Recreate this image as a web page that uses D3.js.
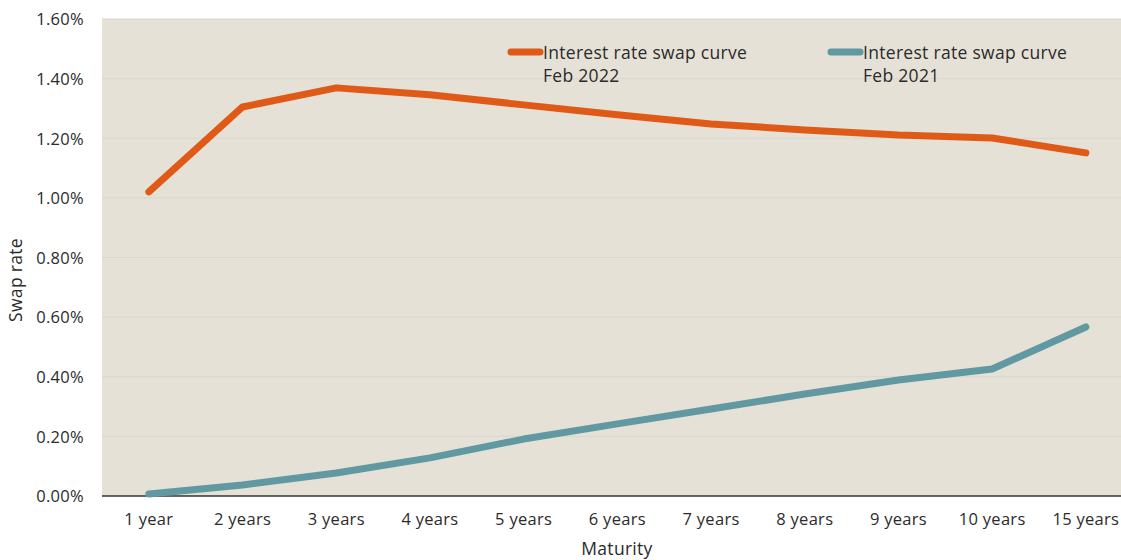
<!DOCTYPE html>
<html lang="en">
<head>
<meta charset="UTF-8">
<title>Swap curve</title>
<style>
body { margin: 0; background: #fff; }
text { font-family: "Open Sans", "Noto Sans", sans-serif; fill: #2b2b2b; letter-spacing: 0.3px; }
.grid line { stroke: #d8d6d2; stroke-width: 1; }
.axis .domain { stroke: none; }
.axis .tick line { stroke: none; }
</style>
</head>
<body>
<script src="https://cdn.jsdelivr.net/npm/d3@7"></script>
<script>
var maturities = ["1 year", "2 years", "3 years", "4 years", "5 years", "6 years", "7 years", "8 years", "9 years", "10 years", "15 years"]
var feb2022 = [1.02, 1.305, 1.369, 1.346, 1.312, 1.279, 1.248, 1.228, 1.211, 1.201, 1.151]
var feb2021 = [0.007, 0.037, 0.077, 0.128, 0.191, 0.242, 0.292, 0.342, 0.389, 0.426, 0.567]
var yTicks = [0, 0.2, 0.4, 0.6, 0.8, 1.0, 1.2, 1.4, 1.6]
var seriesNames = ["Interest rate swap curve|Feb 2022", "Interest rate swap curve|Feb 2021"]
var colors = ["#e05a17", "#6199a2"]

var W = 1121, H = 560
var plotLeft = 102, plotTop = 19, plotBottom = 496

var x = d3.scaleBand().domain(maturities).range([plotLeft, plotLeft + 11 * 93.7])
var y = d3.scaleLinear().domain([0, 1.6]).range([plotBottom, plotTop])

var svg = d3.select("body").append("svg").attr("width", W).attr("height", H)

svg.append("rect")
  .attr("x", plotLeft).attr("y", plotTop)
  .attr("width", W - plotLeft).attr("height", plotBottom - plotTop)
  .attr("fill", "#e5e1d6")

svg.append("g").attr("class", "grid")
  .selectAll("line").data(yTicks.slice(1))
  .enter().append("line")
  .attr("x1", plotLeft).attr("x2", W)
  .attr("y1", function (d) { return y(d) }).attr("y2", function (d) { return y(d) })

svg.append("line")
  .attr("x1", plotLeft).attr("x2", W)
  .attr("y1", plotBottom).attr("y2", plotBottom)
  .attr("stroke", "#333").attr("stroke-width", 1.5)

svg.append("g").attr("class", "axis")
  .attr("transform", "translate(" + (plotLeft - 15) + ",0)")
  .call(d3.axisLeft(y).tickValues(yTicks).tickSize(0).tickFormat(function (d) { return d.toFixed(2) + "%" }))
  .selectAll("text").attr("dy", "0.35em")

svg.append("g").attr("class", "axis")
  .attr("transform", "translate(0," + (plotBottom + 14) + ")")
  .call(d3.axisBottom(x).tickSize(0))
  .selectAll("text").attr("dy", "0.71em")

svg.selectAll(".axis text")
  .style("font-family", "'Open Sans', 'Noto Sans', sans-serif")
  .style("font-size", "16.5px")
  .style("fill", "#2b2b2b")

var line = d3.line()
  .x(function (d, i) { return x(maturities[i]) + x.bandwidth() / 2 })
  .y(function (d) { return y(d) })

;[feb2022, feb2021].forEach(function (s, k) {
  svg.append("path")
    .datum(s)
    .attr("fill", "none")
    .attr("stroke", colors[k])
    .attr("stroke-width", 7)
    .attr("stroke-linecap", "round")
    .attr("stroke-linejoin", "round")
    .attr("d", line)
})

// legend
var legX = [511, 831]
seriesNames.forEach(function (name, k) {
  var g = svg.append("g").attr("transform", "translate(" + legX[k] + ",52)")
  g.append("line")
    .attr("x1", 0).attr("x2", 29)
    .attr("stroke", colors[k]).attr("stroke-width", 7).attr("stroke-linecap", "round")
  var parts = name.split("|")
  g.append("text").attr("x", 32).attr("y", 7).style("font-size", "17.5px").text(parts[0])
  g.append("text").attr("x", 32).attr("y", 30).style("font-size", "17.5px").text(parts[1])
})

svg.append("text")
  .attr("transform", "translate(22,280) rotate(-90)")
  .attr("text-anchor", "middle")
  .style("font-size", "17.5px")
  .text("Swap rate")

svg.append("text")
  .attr("x", 617).attr("y", 555)
  .attr("text-anchor", "middle")
  .style("font-size", "17.5px")
  .text("Maturity")
</script>
</body>
</html>
